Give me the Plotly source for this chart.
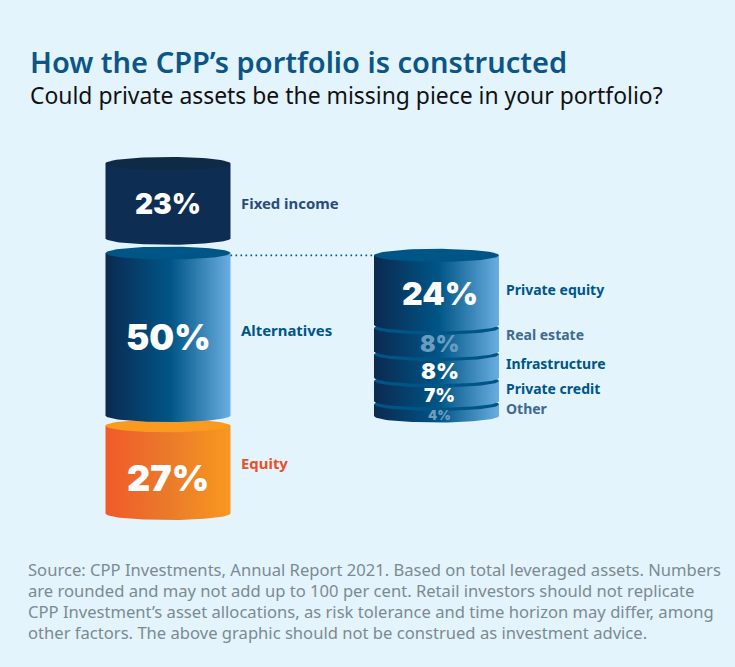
import numpy as np
import plotly.graph_objects as go

W, H = 735, 667
BG = '#e3f4fd'

left_names = ['Equity', 'Alternatives', 'Fixed income']
left_values = [27, 50, 23]
right_names = ['Other', 'Private credit', 'Infrastructure', 'Real estate', 'Private equity']
right_values = [4, 7, 8, 8, 24]

source_lines = [
    'Source: CPP Investments, Annual Report 2021. Based on total leveraged assets. Numbers',
    'are rounded and may not add up to 100 per cent. Retail investors should not replicate',
    'CPP Investment’s asset allocations, as risk tolerance and time horizon may differ, among',
    'other factors. The above graphic should not be construed as investment advice.',
]

# axis scales: pixels per percentage point, the right stack has its own
L_SCALE, R_SCALE = 3.25, 2.9
L_BASE, R_BASE = 513.5, 416.0
L_CX, R_CX, RX, RY = 168, 436.5, 62.5, 6.5
L_GAPS = [3.14, 4.55]
R_GAP = 1.1

NAVY = ['#0b2a50', '#005587', '#6aaee0']
blue = dict(stops=[[0, NAVY[0]], [0.52, NAVY[1]], [1, NAVY[2]]], top='#005587')
flat = dict(stops=[[0, '#0d2d52'], [1, '#0d2d52']], top='#0e2a45')
orange = dict(stops=[[0, '#f15a29'], [0.5, '#ea7a2b'], [1, '#f9981f']], top='#fa9a1f')


def cylinder(fig, cx, y0, value, scale, style, axis):
    ry = RY / scale
    t = np.linspace(0, np.pi, 60)
    y1 = y0 + value
    # side wall, closed by the lower arc
    xs = np.r_[cx - RX, cx + RX, cx + RX * np.cos(t)]
    ys = np.r_[y1, y1, y0 - ry * np.sin(t)]
    fig.add_trace(go.Scatter(x=xs, y=ys, yaxis=axis, mode='lines', line_width=0, fill='toself',
                             fillgradient=dict(type='horizontal', colorscale=style['stops'],
                                               start=cx - RX, stop=cx + RX),
                             hoverinfo='skip', showlegend=False))
    t = np.linspace(0, 2 * np.pi, 90)
    fig.add_trace(go.Scatter(x=cx + RX * np.cos(t), y=y1 + ry * np.sin(t), yaxis=axis, mode='lines',
                             line_width=0, fill='toself', fillcolor=style['top'],
                             hoverinfo='skip', showlegend=False))


def label(fig, x, y, yref, text, size, color, weight=700, family='Noto Sans', anchor='left', shift=0):
    fig.add_annotation(x=x, y=y, xref='x', yref=yref, text=text, showarrow=False, xanchor=anchor,
                       yanchor='middle', yshift=shift,
                       font=dict(family=family, size=size, color=color, weight=weight))


fig = go.Figure()

# left stack, bottom up
left_styles = [orange, blue, flat]
left_colors = ['#ea4f26', '#005587', '#2a4d78']
left_pct_sizes = [36, 35, 28]
left_pct_shift = [-8, -3, -3]
left_lab_shift = [7, 4, -2]
base = 0
for i, v in enumerate(left_values):
    cylinder(fig, L_CX, base, v, L_SCALE, left_styles[i], 'y')
    mid = base + v / 2
    label(fig, L_CX, mid, 'y', f'{v}%', left_pct_sizes[i], 'white', 900, 'Inter', 'center', left_pct_shift[i])
    label(fig, 238.5, mid, 'y', left_names[i], 14.9, left_colors[i], shift=left_lab_shift[i])
    base += v + (L_GAPS[i] if i < 2 else 0)

# right stack, bottom up so upper pieces overlap the lower ones
right_pct_colors = ['#6f9dc0', 'white', 'white', '#6a9cc1', 'white']
right_lab_colors = ['#3f6a91', '#005587', '#005587', '#3f6a91', '#005587']
right_pct_sizes = [13, 19, 22, 23, 32]
right_pct_shift = [-5, -4, -5, -4, -3]
right_lab_shift = [2, 3, 3, 5, 1]
base = 0
for i, v in enumerate(right_values):
    cylinder(fig, R_CX, base, v, R_SCALE, blue, 'y2')
    mid = base + v / 2
    label(fig, R_CX + 3, mid, 'y2', f'{v}%', right_pct_sizes[i], right_pct_colors[i], 900, 'Inter', 'center',
          right_pct_shift[i])
    label(fig, 504, mid, 'y2', right_names[i], 14, right_lab_colors[i], shift=right_lab_shift[i])
    base += v + (R_GAP if i < 4 else 0)

# dotted link from the alternatives cylinder to the breakdown
r_top = base
fig.add_trace(go.Scatter(x=[L_CX + RX, R_CX - RX], y=[r_top, r_top], yaxis='y2', mode='lines',
                         line=dict(color='#005587', width=1.6, dash='1.6px,3.4px'),
                         hoverinfo='skip', showlegend=False))


def paper_text(x, y_px, text, size, color, weight=400):
    fig.add_annotation(x=x / W, y=1 - y_px / H, xref='paper', yref='paper', text=text, showarrow=False,
                       xanchor='left', yanchor='middle',
                       font=dict(family='Noto Sans', size=size, color=color, weight=weight))


paper_text(27.5, 61, 'How the CPP’s portfolio is constructed', 29, '#0b5687', 600)
paper_text(27.5, 95, 'Could private assets be the missing piece in your portfolio?', 22.9, '#111111')
for y_px, line in zip([569, 590, 611, 632], source_lines):
    paper_text(25.5, y_px, line, 16.6, '#7c8a90')

fig.update_layout(
    width=W, height=H, autosize=False,
    margin=dict(l=0, r=0, t=0, b=0),
    paper_bgcolor=BG, plot_bgcolor=BG,
    xaxis=dict(range=[0, W], visible=False, fixedrange=True),
    yaxis=dict(range=[-(H - L_BASE) / L_SCALE, L_BASE / L_SCALE], visible=False, fixedrange=True),
    yaxis2=dict(range=[-(H - R_BASE) / R_SCALE, R_BASE / R_SCALE], visible=False, fixedrange=True,
                overlaying='y'),
)

fig.write_html('out.html', config={'displayModeBar': False},
               post_script="document.body.style.margin='0';document.body.style.background='%s';" % BG)
